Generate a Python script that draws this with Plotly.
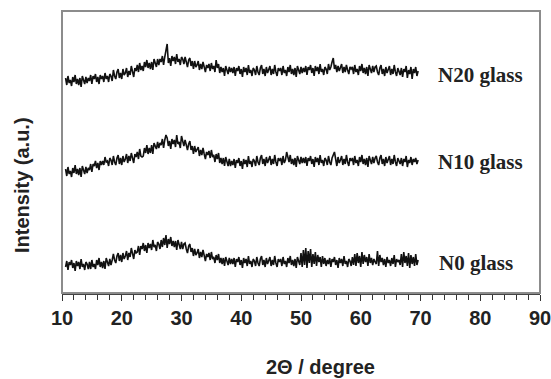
import plotly.graph_objects as go

# measured intensities (arbitrary units), sampled every 0.2 deg from 10.6 deg
theta_start = 10.6
theta_step = 0.2

n20 = [215,208,217,210,213,207,216,211,218,209,214,208,215,206,217,212,209,216,210,215,
       212,218,209,217,214,219,211,216,209,218,214,217,211,220,214,217,211,219,217,212,
       223,217,214,221,224,215,220,214,224,218,220,225,216,222,218,227,221,216,225,222,
       228,221,230,223,227,222,231,226,233,225,230,224,231,223,234,229,226,234,228,234,
       231,237,228,236,243,249,230,235,227,237,232,236,229,239,231,234,228,236,234,229,
       236,230,226,233,235,227,232,224,232,226,228,232,223,229,224,231,226,221,228,225,
       229,222,230,224,227,221,233,225,229,220,226,221,225,217,227,223,219,226,221,225,
       220,226,217,225,222,227,219,224,216,226,221,225,218,228,220,223,217,225,223,218,
       227,221,218,225,228,219,224,217,226,220,223,227,218,224,219,228,221,217,225,222,
       225,218,227,220,223,217,226,221,228,219,224,218,225,216,227,222,219,226,220,225,
       221,227,218,226,223,228,220,225,217,227,222,226,219,229,221,224,218,226,224,219,
       229,223,226,231,235,224,228,221,227,222,225,229,220,226,221,228,223,219,226,224,
       226,219,228,221,224,218,227,222,229,220,225,219,226,217,228,223,220,227,221,226,
       227,221,218,225,228,219,224,217,226,220,223,227,218,224,219,228,221,217,225,222,
       218,225,216,224,221,227,215,223,219,226,214,224,220,226,217,222]

n10 = [124,117,126,119,122,116,125,120,128,119,124,118,125,116,127,122,119,126,120,125,
       123,129,121,129,127,132,125,130,123,132,128,132,128,136,131,132,127,135,133,128,
       137,131,128,135,138,129,135,128,137,131,134,139,130,137,132,140,134,130,139,136,
       141,134,144,137,136,137,145,140,148,139,145,140,148,139,150,146,144,151,145,150,
       148,154,145,153,158,155,147,152,144,154,149,153,146,158,149,151,145,157,153,147,
       153,147,143,149,152,143,147,139,147,141,143,146,137,143,138,145,139,134,141,138,
       142,135,143,136,138,131,139,134,140,130,135,129,135,127,136,131,127,134,127,132,
       128,134,125,133,130,135,127,132,124,134,129,133,126,137,129,132,126,134,132,127,
       137,131,128,135,138,129,134,127,136,130,133,137,128,134,129,138,131,127,135,132,
       135,128,137,130,133,141,136,131,138,129,134,128,135,126,137,132,129,136,130,135,
       130,136,127,135,132,137,129,134,126,136,131,135,128,138,130,133,127,135,133,128,
       137,131,128,135,138,141,134,127,136,130,133,137,128,134,129,138,131,127,135,132,
       135,128,137,130,133,127,136,131,138,129,134,128,135,126,137,132,129,136,130,135,
       137,131,128,135,138,129,134,127,136,130,133,137,128,134,129,138,131,127,135,132,
       129,135,127,134,131,137,126,133,130,136,128,134,131,135,129,133]

n0 = [26,32,23,31,28,33,25,30,22,32,27,31,24,34,26,29,23,31,29,24,
      31,24,33,26,29,24,33,28,35,26,31,25,32,24,35,30,27,34,28,33,
      39,33,30,37,40,32,38,31,40,34,37,42,33,40,36,45,38,34,43,40,
      41,47,38,47,44,50,42,48,40,50,45,49,43,53,46,48,42,51,49,44,
      53,46,55,48,58,45,54,49,56,47,52,46,52,43,53,47,44,51,44,49,
      50,44,40,47,49,41,45,37,44,38,40,44,35,41,36,43,37,32,39,36,
      40,33,41,34,36,30,38,33,39,30,35,29,35,27,36,31,28,35,29,34,
      29,35,26,34,31,36,28,33,25,35,30,34,27,37,29,32,26,34,32,27,
      36,30,27,34,37,28,33,26,35,29,32,36,27,33,28,37,30,26,34,31,
      34,27,36,29,32,26,35,30,37,28,33,27,34,25,36,31,28,40,26,43,
      28,45,25,42,30,44,26,39,29,41,27,38,31,36,26,37,29,35,27,33,
      29,35,26,34,31,36,28,33,25,35,30,34,27,37,29,32,26,34,32,27,
      36,28,39,27,40,30,37,26,41,29,38,31,36,27,39,30,35,28,34,31,
      29,42,27,38,31,35,28,34,26,36,30,33,27,35,29,38,26,34,31,33,
      28,39,26,41,30,37,27,40,25,38,29,36,27,39,28,33]

series_names = ["N20 glass", "N10 glass", "N0 glass"]
x_ticks = [10, 20, 30, 40, 50, 60, 70, 80, 90]


def grid(values):
    return [round(theta_start + theta_step * i, 1) for i in range(len(values))]


fig = go.Figure()
for ys in (n20, n10, n0):
    fig.add_trace(go.Scatter(x=grid(ys), y=ys, mode="lines",
                             line=dict(color="#111111", width=1.6),
                             showlegend=False, hoverinfo="skip"))

label_pos = [(72.6, 218), (72.6, 131), (72.8, 30)]
for name, (lx, ly) in zip(series_names, label_pos):
    fig.add_annotation(x=lx, y=ly, text=name, showarrow=False,
                       xanchor="left", yanchor="middle",
                       font=dict(family="Liberation Serif, Times New Roman, serif",
                                 size=21, color="#222222", weight="bold"))

fig.add_annotation(xref="paper", yref="paper", x=0.54, y=-0.262,
                   text="2Θ / degree", showarrow=False,
                   xanchor="center", yanchor="middle",
                   font=dict(family="Liberation Sans, Arial, sans-serif",
                             size=20, color="#222222", weight="bold"))
fig.add_annotation(xref="paper", yref="paper", x=-0.0837, y=0.383,
                   text="Intensity (a.u.)", showarrow=False, textangle=-90,
                   xanchor="center", yanchor="middle",
                   font=dict(family="Liberation Sans, Arial, sans-serif",
                             size=20, color="#222222", weight="bold"))

# gray frame around the plot area
fig.add_shape(type="rect", xref="paper", yref="paper", x0=0, y0=0, x1=1, y1=1,
              line=dict(color="#8c8c8c", width=2), layer="above")

fig.update_layout(
    width=551, height=379,
    margin=dict(l=62, r=11, t=11, b=86, autoexpand=False),
    paper_bgcolor="white", plot_bgcolor="white",
    xaxis=dict(range=[10, 90], tickvals=x_ticks,
               ticktext=[str(v) for v in x_ticks],
               ticklabeloverflow="allow", automargin=False,
               ticks="outside", ticklen=6, tickwidth=1.2, tickcolor="#333333",
               minor=dict(dtick=2, ticks="outside", ticklen=5, tickwidth=1, tickcolor="#333333"),
               showline=True, linecolor="#444444", linewidth=2,
               showgrid=False, zeroline=False,
               tickfont=dict(family="Liberation Sans, Arial, sans-serif",
                             size=20, color="#222222", weight="bold")),
    yaxis=dict(range=[0, 282], showticklabels=False, ticks="", automargin=False,
               showgrid=False, zeroline=False, showline=False),
)

fig.write_html("out.html", config={"displayModeBar": False},
               post_script="document.body.style.margin='0';document.body.style.overflow='hidden';")
